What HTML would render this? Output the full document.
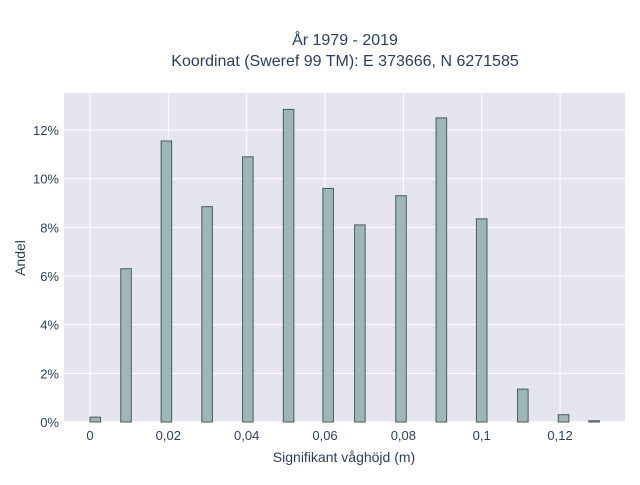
<!DOCTYPE html>
<html><head><meta charset="utf-8"><style>
body{margin:0;background:#fff;font-family:"Liberation Sans",sans-serif}
</style></head><body>
<svg id="chart" width="640" height="480" xmlns="http://www.w3.org/2000/svg" font-family="Liberation Sans, sans-serif">
<rect x="0" y="0" width="640" height="480" fill="#fff"/>
<text x="345" y="45" text-anchor="middle" font-size="16" fill="#2a3f5f">År 1979 - 2019</text>
<text x="345" y="66" text-anchor="middle" font-size="16" fill="#2a3f5f">Koordinat (Sweref 99 TM): E 373666, N 6271585</text>
<rect x="64" y="93" width="561" height="329" fill="#e5e5f0"/>
<g id="grid"></g>
<g id="bars"></g>
<g id="ticks"></g>
<text x="344" y="462" text-anchor="middle" font-size="14" fill="#2a3f5f">Signifikant våghöjd (m)</text>
<text transform="translate(25,258) rotate(-90)" text-anchor="middle" font-size="14" fill="#2a3f5f">Andel</text>
</svg>
<script>
const binCenters=[0.00135,0.0092,0.0195,0.0299,0.0403,0.0507,0.0608,0.0689,0.0794,0.0897,0.1,0.1105,0.1209,0.1287];
const shares=[0.2,6.3,11.55,8.85,10.9,12.85,9.6,8.1,9.3,12.5,8.35,1.35,0.3,0.05];
const xTicks=[0,0.02,0.04,0.06,0.08,0.1,0.12];
const xTickLabels=["0","0,02","0,04","0,06","0,08","0,1","0,12"];
const yTicks=[0,2,4,6,8,10,12];
const yTickLabels=["0%","2%","4%","6%","8%","10%","12%"];
const binWidth=0.0027;
const X=v=>90+v*3917;
const Y=v=>422-v*24.33;
const NS="http://www.w3.org/2000/svg";
const g=document.getElementById('grid'),b=document.getElementById('bars'),t=document.getElementById('ticks');
function mk(tag,attrs,parent){const e=document.createElementNS(NS,tag);for(const k in attrs)e.setAttribute(k,attrs[k]);parent.appendChild(e);return e;}
xTicks.forEach((v,i)=>{
  const l=mk('line',{x1:X(v),x2:X(v),y1:93,y2:422,stroke:'#fff','stroke-width':1},g);
  
  
  const tx=mk('text',{x:X(v),y:440,'text-anchor':'middle','font-size':13,fill:'#2a3f5f'},t);
  tx.textContent=xTickLabels[i];
  
  
});
yTicks.forEach((v,i)=>{
  const l=mk('line',{x1:64,x2:625,y1:Y(v),y2:Y(v),stroke:'#fff','stroke-width':1},g);
  
  
  const tx=mk('text',{x:59,y:Y(v)+5,'text-anchor':'end','font-size':13,fill:'#2a3f5f'},t);
  tx.textContent=yTickLabels[i];
  
  
});
binCenters.forEach((c,i)=>{
  const x0=X(c-binWidth/2),x1=X(c+binWidth/2);
  const r=mk('rect',{x:x0,y:Y(shares[i]),width:x1-x0,height:Y(0)-Y(shares[i]),fill:'#9db6b6',stroke:'#4a5a5a','stroke-width':1},b);
  
  
});
</script>
</body></html>
